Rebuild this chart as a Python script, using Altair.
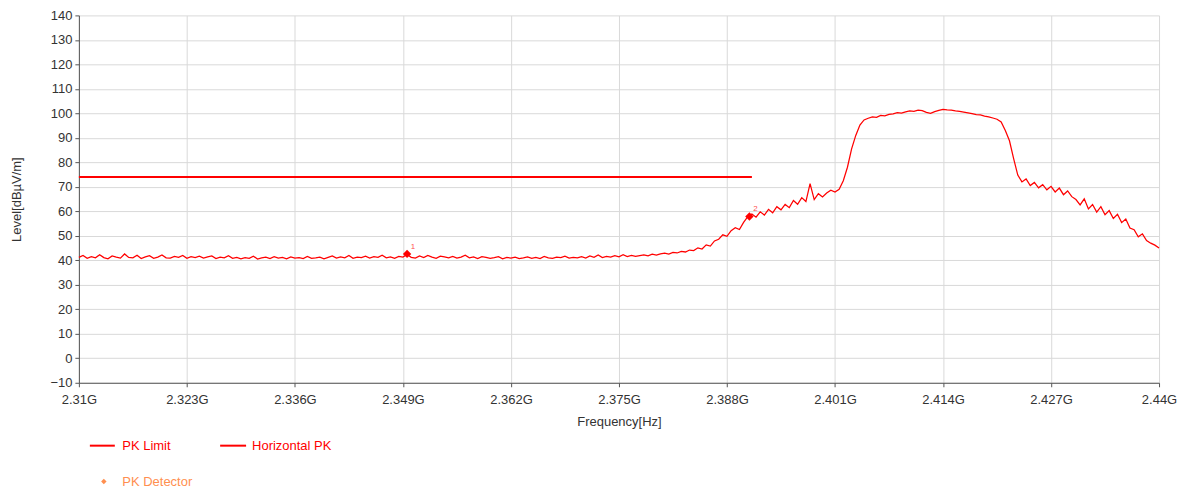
import altair as alt
import pandas as pd

# ---------------- data ----------------
freq_start_mhz = 2310.0
freq_step_mhz = 0.5

# 2310 .. 2379.5 MHz : noise floor
level_flat = [
    41.2, 42.0, 40.8, 41.5, 41.0, 42.3, 41.1, 40.6, 41.8, 41.3,
    40.9, 42.6, 41.2, 41.0, 42.1, 40.7, 41.4, 41.9, 40.8, 41.3,
    42.2, 41.0, 40.9, 41.6, 41.2, 42.0, 40.8, 41.5, 41.1, 41.7,
    40.9, 41.4, 41.8, 40.7, 41.3, 41.0, 41.9, 40.8, 41.2, 40.6,
    41.1, 40.8, 41.7, 40.5, 41.0, 41.3, 40.7, 41.5, 40.9, 41.2,
    40.6, 41.4, 40.9, 41.1, 40.7, 41.6, 40.8, 41.0, 41.3, 40.6,
    41.2, 41.8, 40.9, 41.4, 41.0, 42.0, 40.8, 41.3, 41.1, 41.7,
    40.9, 41.5, 41.2, 42.1, 41.0, 41.4, 40.8, 41.6, 41.3, 42.4,
    41.2, 40.9, 41.8, 41.1, 42.0, 41.3, 40.8, 41.7, 41.4, 41.0,
    41.6, 40.9, 41.3, 42.1, 41.0, 41.4, 40.7, 41.5, 41.2, 40.8,
    41.1, 41.5, 40.6, 41.2, 40.9, 41.3, 40.7, 41.0, 41.4, 40.8,
    41.2, 40.7, 41.6, 41.0, 40.8, 41.3, 41.1, 41.7, 40.9, 41.2,
    41.0, 41.5, 40.9, 41.8, 41.2, 42.2, 41.1, 41.6, 41.3, 41.9,
    41.4, 42.3, 41.5, 42.0, 41.6, 41.9, 42.2, 41.8, 42.5, 42.1,
]
# 2380 .. 2401.5 MHz : lower skirt
level_skirt_low = [
    42.6, 42.9, 42.5, 43.2, 43.0, 43.6, 43.4, 44.2, 44.0, 45.1,
    44.6, 46.3, 45.8, 47.9, 48.6, 50.4, 49.8, 52.1, 53.3, 52.6,
    55.5, 57.8, 58.9, 57.6, 59.8, 58.5, 60.8, 59.4, 61.9, 60.6,
    62.8, 61.5, 64.4, 62.9, 65.6, 64.0, 71.3, 64.8, 67.2, 65.9,
    67.5, 68.6, 67.9, 69.0,
]
# 2402 .. 2423.5 MHz : in-band
level_band = [
    72.5, 78.0, 85.5, 91.0, 95.2, 97.3,
    98.0, 98.6, 98.4, 99.2, 99.0, 99.6, 99.8, 100.3, 100.1, 100.6,
    101.0, 100.8, 101.3, 101.1, 100.4, 100.0, 100.7, 101.2, 101.6, 101.4,
    101.3, 101.0, 100.8, 100.5, 100.2, 99.9, 99.5, 99.4, 98.9, 98.6,
    98.1, 97.6, 96.5, 93.0, 88.8, 81.5, 74.8, 72.0,
]
# 2424 .. 2440 MHz : upper skirt
level_skirt_high = [
    73.2, 70.5,
    71.8, 69.6, 70.9, 68.8, 70.2, 67.9, 69.5, 66.8, 68.3, 66.0,
    64.8, 62.6, 65.1, 61.0, 62.8, 59.7, 61.9, 58.6, 60.3, 57.1,
    58.8, 55.4, 56.9, 53.2, 52.5, 49.6, 50.8, 48.1, 47.0, 46.2,
    45.0,
]

limit_freq = [2310.0, 2391.0]
limit_level = [74.0, 74.0]

marker_freq = [2349.5, 2390.7]
marker_level = [42.6, 57.9]
marker_label = ["1", "2"]

x_ticks = [2310, 2323, 2336, 2349, 2362, 2375, 2388, 2401, 2414, 2427, 2440]
y_ticks = [-10, 0, 10, 20, 30, 40, 50, 60, 70, 80, 90, 100, 110, 120, 130, 140]

legend_labels = ["PK Limit", "Horizontal PK", "PK Detector"]

# ---------------- tables ----------------
levels = level_flat + level_skirt_low + level_band + level_skirt_high
freqs = [freq_start_mhz + freq_step_mhz * i for i in range(len(levels))]
trace_df = pd.DataFrame({"freq": freqs, "level": levels})
limit_df = pd.DataFrame({"freq": limit_freq, "level": limit_level})
marker_df = pd.DataFrame({"freq": marker_freq, "level": marker_level, "label": marker_label})

FONT = "Liberation Sans"
RED = "#ff0000"
ORANGE = "#ff8f4f"

x_scale = alt.Scale(domain=[2310, 2440], nice=False, zero=False)
y_scale = alt.Scale(domain=[-10, 140], nice=False, zero=False)

x_axis = alt.Axis(
    values=x_ticks,
    labelExpr="datum.value/1000 + 'G'",
    title="Frequency[Hz]",
    tickSize=4,
    labelPadding=7,
    titlePadding=9,
    labelFlush=False,
)
y_axis = alt.Axis(
    values=y_ticks,
    title="Level[dBµV/m]",
    tickSize=4,
    labelPadding=3,
    titlePadding=26,
)

X = alt.X("freq:Q", scale=x_scale, axis=x_axis)
Y = alt.Y("level:Q", scale=y_scale, axis=y_axis)

trace = alt.Chart(trace_df).mark_line(color=RED, strokeWidth=1.25).encode(x=X, y=Y)

limit = alt.Chart(limit_df).mark_line(color=RED, strokeWidth=2).encode(x=X, y=Y)

markers = alt.Chart(marker_df).mark_point(
    shape="diamond", filled=True, color=RED, size=70, opacity=1
).encode(x=X, y=Y)

marker_text = alt.Chart(marker_df).mark_text(
    dx=6, dy=-7, fontSize=8, color="#ff5050", font=FONT
).encode(x=X, y=Y, text="label:N")


# ---------------- legend (drawn below the plot) ----------------
def legend_line(x0, x1, y):
    return alt.Chart(pd.DataFrame({"k": [0]})).mark_rule(color=RED, strokeWidth=2).encode(
        x=alt.value(x0), x2=alt.value(x1), y=alt.value(y)
    )


def legend_text(label, x, y, color):
    return alt.Chart(pd.DataFrame({"label": [label]})).mark_text(
        align="left", baseline="middle", fontSize=13, font=FONT, color=color
    ).encode(x=alt.value(x), y=alt.value(y), text="label:N")


leg_sym = alt.Chart(pd.DataFrame({"k": [0]})).mark_point(
    shape="diamond", filled=True, color=ORANGE, size=30, opacity=1
).encode(x=alt.value(25), y=alt.value(467))

legend_layers = [
    legend_line(11, 36, 431),
    legend_text(legend_labels[0], 43.5, 431, RED),
    legend_line(141.5, 167.5, 431),
    legend_text(legend_labels[1], 173.5, 431, RED),
    leg_sym,
    legend_text(legend_labels[2], 43.5, 467, ORANGE),
]

chart = alt.layer(trace, limit, markers, marker_text, *legend_layers).properties(
    width=1082,
    height=368,
    autosize=alt.AutoSizeParams(type="none"),
    padding={"left": 71, "top": 7, "right": 20, "bottom": 106},
).configure_view(stroke=None).configure_axis(
    gridColor="#d9d9d9",
    gridWidth=1,
    domainColor="#555555",
    tickColor="#555555",
    labelColor="#333333",
    titleColor="#333333",
    labelFont=FONT,
    titleFont=FONT,
    labelFontSize=13,
    titleFontSize=13,
    titleFontWeight="normal",
)

chart.save("out.html", embed_options={"renderer": "svg", "actions": False})
